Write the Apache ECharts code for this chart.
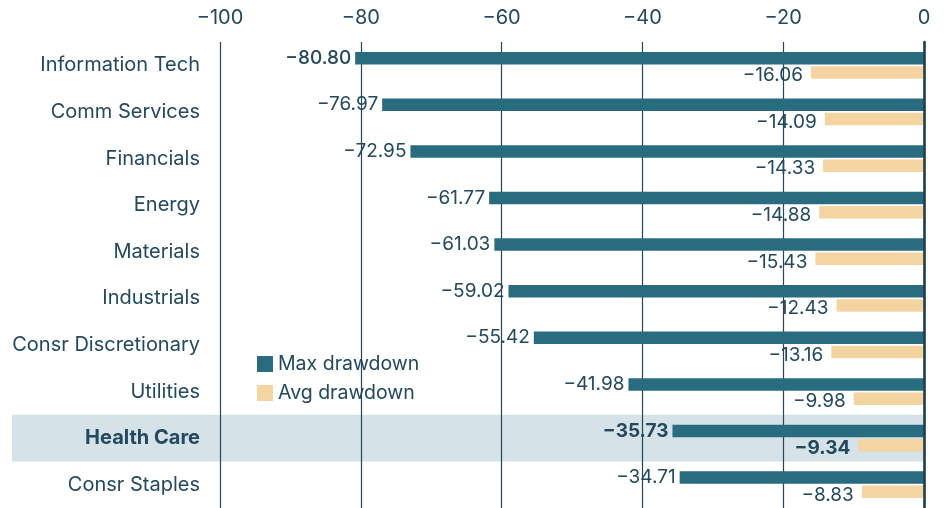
<!DOCTYPE html>
<html>
<head>
<meta charset="utf-8">
<script src="https://cdn.jsdelivr.net/npm/echarts@6/dist/echarts.min.js"></script>
<style>
  html, body { margin: 0; padding: 0; background: #ffffff; }
  #chart { width: 944px; height: 508px; }
</style>
</head>
<body>
<div id="chart"></div>
<script>
// Sector drawdowns (%): worst peak-to-trough vs. average drawdown
const sectors = [
  'Information Tech', 'Comm Services', 'Financials', 'Energy', 'Materials',
  'Industrials', 'Consr Discretionary', 'Utilities', 'Health Care', 'Consr Staples'
];
const maxDrawdown = [-80.80, -76.97, -72.95, -61.77, -61.03, -59.02, -55.42, -41.98, -35.73, -34.71];
const avgDrawdown = [-16.06, -14.09, -14.33, -14.88, -15.43, -12.43, -13.16, -9.98, -9.34, -8.83];
const seriesNames = ['Max drawdown', 'Avg drawdown'];
const highlighted = 'Health Care';

const TEXT = '#22495d';
const FONT = 'Inter, "Noto Sans", sans-serif';
const fmt = v => (v < 0 ? '\u2212' : '') + Math.abs(v).toFixed(2);
const fmtTick = v => (v < 0 ? '\u2212' : '') + Math.abs(v);

function items(values, boldFirst) {
  return values.map((v, i) => {
    const isHi = sectors[i] === highlighted;
    const w = isHi ? 'bold' : (boldFirst && i === 0 ? 500 : 'normal');
    return { value: v, label: { fontWeight: w } };
  });
}

const chart = echarts.init(document.getElementById('chart'), null, { renderer: 'canvas' });
chart.setOption({
  animation: false,
  textStyle: { fontFamily: FONT },
  grid: { left: 220, right: 20, top: 42, bottom: -1, containLabel: false },
  legend: {
    orient: 'vertical',
    left: 252,
    top: 349,
    itemWidth: 16,
    itemHeight: 16,
    itemGap: 9,
    icon: 'rect',
    textStyle: { color: TEXT, fontSize: 19.5, fontFamily: FONT },
    data: seriesNames
  },
  xAxis: {
    type: 'value',
    position: 'top',
    min: -100,
    max: 0,
    interval: 20,
    z: 1.5,
    axisLine: { show: false },
    axisTick: { show: false },
    axisLabel: { color: TEXT, fontSize: 20, margin: 14, formatter: fmtTick, fontFamily: FONT },
    splitLine: { show: true, lineStyle: { color: '#24475a', width: 1.2 } }
  },
  yAxis: [
    {
      type: 'category',
      inverse: true,
      data: sectors,
      axisLine: { show: false },
      axisTick: { show: false },
      axisLabel: {
        color: TEXT,
        fontSize: 20,
        margin: 20,
        fontFamily: FONT,
        formatter: v => v === highlighted ? '{b|' + v + '}' : v,
        rich: { b: { fontWeight: 'bold', fontSize: 20, color: TEXT, fontFamily: FONT } }
      }
    },
    {
      type: 'category',
      inverse: true,
      position: 'right',
      data: sectors,
      z: 3,
      axisLine: { show: true, lineStyle: { color: '#1c3f52', width: 2.6 } },
      axisTick: { show: false },
      axisLabel: { show: false }
    }
  ],
  series: [
    {
      name: seriesNames[0],
      type: 'bar',
      yAxisIndex: 0,
      barWidth: 12.5,
      barGap: '14%',
      itemStyle: { color: '#296c80' },
      label: {
        show: true,
        position: 'left',
        distance: 4,
        color: TEXT,
        fontSize: 19,
        fontFamily: FONT,
        formatter: p => fmt(p.value)
      },
      data: items(maxDrawdown, true),
      markArea: {
        silent: true,
        z: 0,
        itemStyle: { color: '#d5e2e7', opacity: 1 },
        data: [[{ x: 12, yAxis: highlighted }, { xAxis: 0, yAxis: highlighted }]]
      }
    },
    {
      name: seriesNames[1],
      type: 'bar',
      yAxisIndex: 0,
      barWidth: 12.5,
      barGap: '14%',
      itemStyle: { color: '#f4d4a0' },
      label: {
        show: true,
        position: 'left',
        distance: 8,
        offset: [0, 3],
        color: TEXT,
        fontSize: 19,
        fontFamily: FONT,
        formatter: p => fmt(p.value)
      },
      data: items(avgDrawdown, false)
    }
  ]
});
</script>
</body>
</html>
